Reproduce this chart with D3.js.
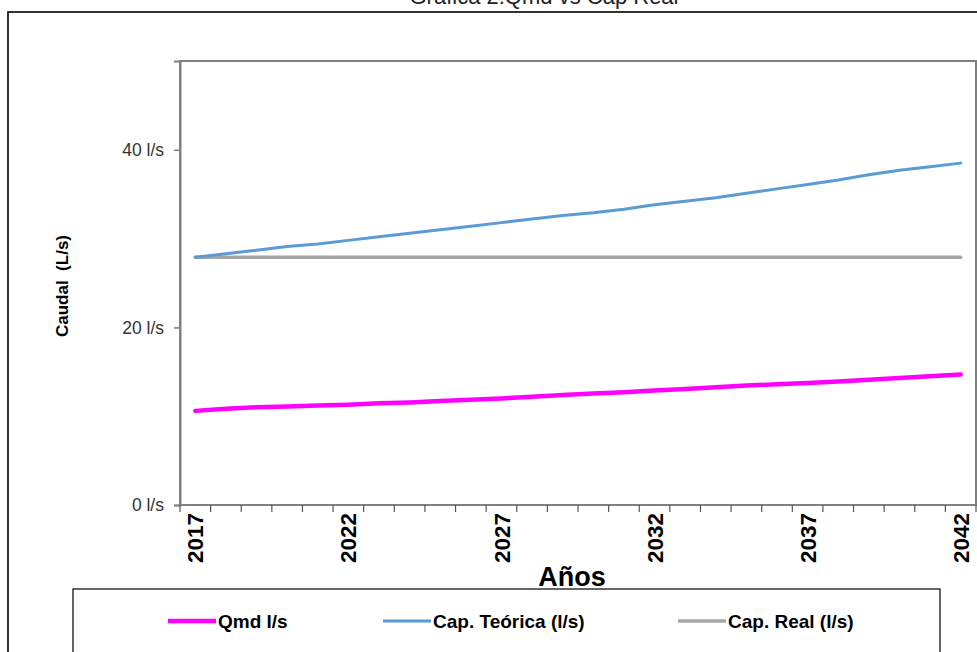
<!DOCTYPE html>
<html>
<head>
<meta charset="utf-8">
<script src="https://cdn.jsdelivr.net/npm/d3@7"></script>
<style>
  html, body { margin: 0; padding: 0; background: #fff; }
  svg { display: block; }
  text { font-family: "Liberation Sans", Arial, sans-serif; }
</style>
</head>
<body>
<svg id="chart" width="977" height="652"></svg>
<script>
// Years of the projection
const years = d3.range(2017, 2043);
// Qmd l/s
const qmd = [10.6, 10.85, 11.0, 11.1, 11.2, 11.3, 11.45, 11.55, 11.7, 11.85,
             12.0, 12.2, 12.4, 12.55, 12.7, 12.9, 13.05, 13.25, 13.45, 13.6,
             13.75, 13.9, 14.1, 14.3, 14.5, 14.7];
// Cap. Teórica (l/s)
const capTeorica = [27.9, 28.3, 28.7, 29.1, 29.4, 29.8, 30.2, 30.6, 31.0, 31.4,
                    31.8, 32.2, 32.6, 32.9, 33.3, 33.8, 34.2, 34.6, 35.1, 35.6,
                    36.1, 36.6, 37.2, 37.7, 38.1, 38.5];
// Cap. Real (l/s)
const capReal = years.map(() => 27.9);
// Axis labels
const xTickLabels = [2017, 2022, 2027, 2032, 2037, 2042];
const yTickValues = [0, 20, 40];

const series = [
  { name: "Qmd l/s", values: qmd, color: "#ff00ff", width: 4.5 },
  { name: "Cap. Teórica (l/s)", values: capTeorica, color: "#5b9bd5", width: 3 },
  { name: "Cap. Real (l/s)", values: capReal, color: "#a5a5a5", width: 3.5 }
];

const svg = d3.select("#chart");
const plot = { left: 180, top: 61, right: 976, bottom: 505 };

// Outer chart frame
svg.append("rect")
  .attr("x", 8).attr("y", 12).attr("width", 990).attr("height", 660)
  .attr("fill", "none").attr("stroke", "#000").attr("stroke-width", 1.6);

// Title
svg.append("text")
  .attr("x", 544).attr("y", 4)
  .attr("text-anchor", "middle")
  .attr("font-size", 22)
  .attr("fill", "#222")
  .text("Grafica 2.Qmd vs Cap Real");

const x = d3.scaleBand().domain(years).range([plot.left, plot.right]).padding(0);
const y = d3.scaleLinear().domain([0, 50]).range([plot.bottom, plot.top]);
const cx = d => x(d) + x.bandwidth() / 2;

// Plot area border
svg.append("rect")
  .attr("x", plot.left).attr("y", plot.top)
  .attr("width", plot.right - plot.left).attr("height", plot.bottom - plot.top)
  .attr("fill", "none").attr("stroke", "#808080").attr("stroke-width", 2);

// Y axis
const yAxis = svg.append("g")
  .attr("transform", `translate(${plot.left},0)`)
  .call(d3.axisLeft(y).tickValues(yTickValues).tickSize(6).tickPadding(10)
    .tickFormat(d => `${d} l/s`));
yAxis.select(".domain").attr("stroke", "#808080").attr("stroke-width", 2);
yAxis.selectAll(".tick line").attr("stroke", "#808080").attr("stroke-width", 1.5);
yAxis.selectAll(".tick text")
  .attr("font-family", "'Liberation Sans', Arial, sans-serif")
  .attr("font-size", 17.5).attr("fill", "#333");

// X axis: tick marks at category boundaries
const boundaries = years.map(d => x(d)).concat([plot.right]);
svg.append("g").selectAll("line").data(boundaries).join("line")
  .attr("x1", d => d).attr("x2", d => d)
  .attr("y1", plot.bottom).attr("y2", plot.bottom + 7)
  .attr("stroke", "#555").attr("stroke-width", 1.2);

const xAxis = svg.append("g")
  .attr("transform", `translate(0,${plot.bottom})`)
  .call(d3.axisBottom(x).tickValues(xTickLabels).tickSize(0).tickPadding(0));
xAxis.select(".domain").remove();
xAxis.selectAll(".tick text")
  .attr("font-family", "'Liberation Sans', Arial, sans-serif")
  .attr("font-size", 22.5).attr("font-weight", "bold").attr("fill", "#000")
  .attr("text-anchor", "end")
  .attr("transform", "rotate(-90)")
  .attr("x", -8).attr("y", 0).attr("dy", "0.36em");

// Axis titles
svg.append("text")
  .attr("transform", "translate(68,286) rotate(-90)")
  .attr("text-anchor", "middle")
  .attr("font-size", 17).attr("font-weight", "bold")
  .style("white-space", "pre")
  .text("Caudal  (L/s)");
svg.append("text")
  .attr("x", 572).attr("y", 586)
  .attr("text-anchor", "middle")
  .attr("font-size", 27).attr("font-weight", "bold")
  .text("Años");

// Series lines
const line = d3.line().x((d, i) => cx(years[i])).y(d => y(d));
svg.append("g").selectAll("path")
  .data([series[2], series[1], series[0]]).join("path")
  .attr("d", s => line(s.values))
  .attr("fill", "none")
  .attr("stroke", s => s.color)
  .attr("stroke-width", s => s.width)
  .attr("stroke-linecap", "round")
  .attr("stroke-linejoin", "round");

// Legend
svg.append("rect")
  .attr("x", 73).attr("y", 589).attr("width", 867).attr("height", 80)
  .attr("fill", "#fff").attr("stroke", "#000").attr("stroke-width", 1.2);
const legendX = [168, 383, 678];
const lg = svg.append("g").selectAll("g").data(series).join("g")
  .attr("transform", (d, i) => `translate(${legendX[i]},621)`);
lg.append("line")
  .attr("x1", 0).attr("x2", 48).attr("y1", 0).attr("y2", 0)
  .attr("stroke", d => d.color).attr("stroke-width", d => d.width);
lg.append("text")
  .attr("x", 50).attr("y", 0).attr("dy", "0.36em")
  .attr("font-size", 19).attr("font-weight", "bold")
  .text(d => d.name);
</script>
</body>
</html>
